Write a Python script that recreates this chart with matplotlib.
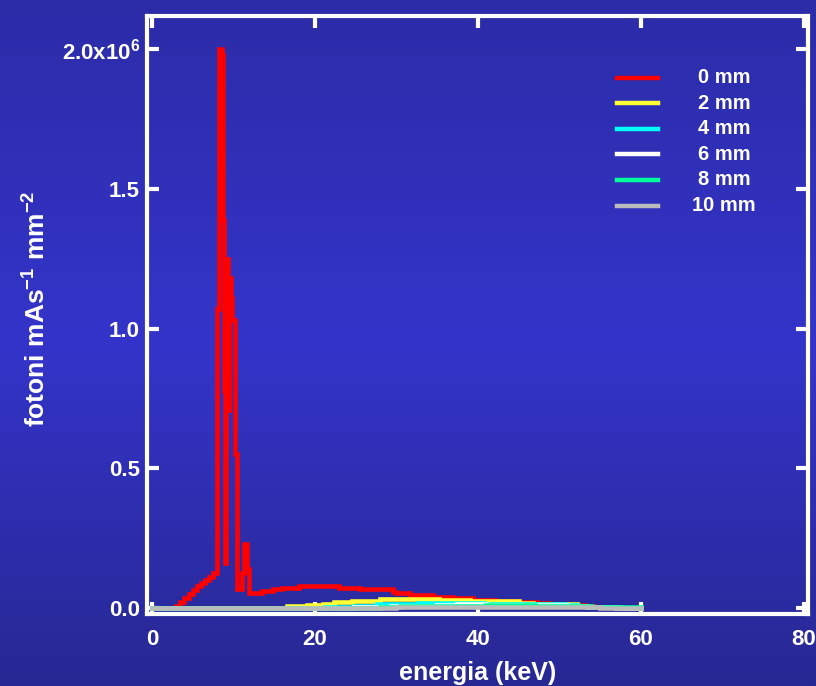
import numpy as np
import matplotlib
matplotlib.use("Agg")
import matplotlib.pyplot as plt

plt.rcParams['font.family'] = ['Liberation Sans', 'DejaVu Sans']
plt.rcParams['font.weight'] = 'bold'
plt.rcParams['mathtext.fontset'] = 'custom'
plt.rcParams['mathtext.rm'] = 'Liberation Sans:bold'
plt.rcParams['mathtext.bf'] = 'Liberation Sans:bold'
plt.rcParams['mathtext.default'] = 'bf'

# spectra: bin left edge (keV) and photons per mAs per mm^2 (x 1e6)
red_e = [0, 3.0, 3.5, 4.0, 4.5, 5.0, 5.5, 6.0, 6.5, 7.0, 7.5,
         7.96, 8.23, 8.60, 8.78, 8.90, 9.02, 9.15, 9.39, 9.51, 9.70, 9.88, 10.15,
         10.4, 11.0, 11.3, 11.7, 11.95,
         13.5, 14.8, 16.0, 18.0, 23.0, 25.5, 29.6, 30.0,
         31.7, 34.5, 37.0, 39.4, 42.1, 44.9, 47.3, 48.9, 50.7, 53.2, 54.3, 57.5, 60]
red_v = [0, 0.008, 0.022, 0.038, 0.052, 0.066, 0.078, 0.09, 0.1, 0.11, 0.125,
         1.07, 2.00, 1.98, 1.39, 0.775, 0.16, 1.25, 0.71, 1.18, 1.11, 1.03, 0.55,
         0.068, 0.125, 0.23, 0.14, 0.054,
         0.061, 0.068, 0.0725, 0.079, 0.0725, 0.068, 0.058, 0.053,
         0.046, 0.040, 0.035, 0.030, 0.026, 0.022, 0.017, 0.014, 0.010, 0.007, 0.003, 0, 0]

yellow_e = [0, 16.6, 19.0, 21.0, 22.4, 24.6, 28.0, 35.2, 39.0, 40.8, 45.0, 46.7, 49.0, 52.2, 53.4, 57.5, 60]
yellow_v = [0, 0.007, 0.011, 0.016, 0.021, 0.026, 0.032, 0.029, 0.027, 0.024, 0.020, 0.016, 0.013, 0.009, 0.005, 0, 0]

cyan_e = [0, 21.3, 24.8, 27.6, 32.6, 39.1, 40.7, 47.0, 50.7, 52.3, 53.5, 57.5, 60]
cyan_v = [0, 0.004, 0.009, 0.014, 0.020, 0.018, 0.016, 0.013, 0.010, 0.008, 0.005, 0, 0]

white_e = [0, 24.8, 29.3, 34.8, 37.4, 41.0, 46.4, 50.9, 53.5, 57.0, 60]
white_v = [0, 0.003, 0.008, 0.011, 0.013, 0.012, 0.010, 0.008, 0.005, 0.002, 0]

green_e = [0, 28.0, 30.4, 36.0, 41.0, 47.0, 50.5, 54.0, 56.5, 60]
green_v = [0, 0.003, 0.007, 0.009, 0.010, 0.009, 0.007, 0.005, 0.003, 0]

gray_e = [0, 30.0, 55.0, 60]
gray_v = [0, 0.003, 0, 0]

labels = ['0 mm', '2 mm', '4 mm', '6 mm', '8 mm', '10 mm']
colors = ['#ff0000', '#ffff33', '#00ffff', '#ffffff', '#00ff99', '#bbbbbb']
series = [(red_e, red_v), (yellow_e, yellow_v), (cyan_e, cyan_v),
          (white_e, white_v), (green_e, green_v), (gray_e, gray_v)]

xticks = [0, 20, 40, 60, 80]
yticks = [0, 0.5, 1.0, 1.5, 2.0]
ytick_labels = ['0.0', '0.5', '1.0', '1.5', r'2.0x10$^{6}$']

fig = plt.figure(figsize=(8.16, 6.86), dpi=100)

# blue gradient background
bg = fig.add_axes([0, 0, 1, 1], zorder=-1)
t = np.linspace(0, 1, 256)
top = np.array([44, 44, 168]) / 255
mid = np.array([52, 52, 202]) / 255
bot = np.array([40, 40, 148]) / 255
grad = np.where(t[:, None] < 0.5,
                top + (mid - top) * (t[:, None] / 0.5),
                mid + (bot - mid) * ((t[:, None] - 0.5) / 0.5))
bg.imshow(grad[:, None, :], aspect='auto', extent=[0, 1, 0, 1])
bg.axis('off')

ax = fig.add_axes([147 / 816, 1 - 614 / 686, 661 / 816, 598 / 686])
ax.set_facecolor('none')

for (e, v), c in zip(series, colors):
    ax.plot(e, v, drawstyle='steps-post', color=c, lw=3.3, solid_joinstyle='miter')

ax.set_xlim(-0.6, 80.5)
ax.set_ylim(-0.021, 2.118)
ax.set_xticks(xticks)
ax.set_yticks(yticks)
ax.set_yticklabels(ytick_labels)

for s in ax.spines.values():
    s.set_color('white')
    s.set_linewidth(3)
ax.tick_params(direction='in', length=8.5, width=3, color='white', labelcolor='white',
               labelsize=16, top=True, right=True)
ax.tick_params(axis='x', pad=11)
ax.tick_params(axis='y', pad=5)

ax.set_xlabel('energia (keV)', color='white', fontsize=18, fontweight='bold')
ax.xaxis.set_label_coords(0.5, -0.078)
ax.set_ylabel(r'fotoni mAs$^{-1}$ mm$^{-2}$', color='white', fontsize=19, fontweight='bold')
ax.yaxis.set_label_coords(-0.146, 0.51)

# legend
for i, (lab, c) in enumerate(zip(labels, colors)):
    yy = 0.897 - i * 0.0428
    ax.plot([0.711, 0.773], [yy, yy], color=c, lw=3.2, transform=ax.transAxes)
    ax.text(0.873, yy, lab, color='white', fontsize=14.5, fontweight='bold',
            ha='center', va='center', transform=ax.transAxes)

fig.savefig('out.png', dpi=100)
